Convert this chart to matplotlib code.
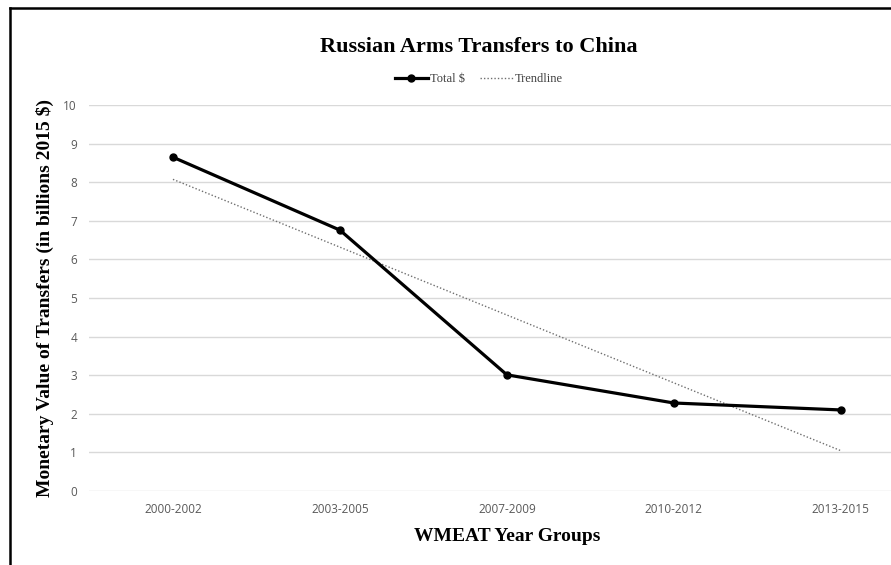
import numpy as np
import matplotlib.pyplot as plt
from matplotlib.lines import Line2D

groups = ["2000-2002", "2003-2005", "2007-2009", "2010-2012", "2013-2015"]
total = [8.65, 6.76, 3.01, 2.28, 2.10]

serif = "Liberation Serif"
sans = "Open Sans"
tick_gray = "#595959"

fig = plt.figure(figsize=(8.91, 5.65), dpi=100)
ax = fig.add_axes([0.1004, 0.131, 0.937, 0.683])

x = np.arange(len(groups))
# linear trendline fitted to the series
coef = np.polyfit(x, total, 1)
trend = np.polyval(coef, x)

ax.plot(x, total, color="black", lw=2.3, marker="o", markersize=5, label="Total $", zorder=3)
ax.plot(x, trend, color="#6f6f6f", lw=1.0, linestyle=(0, (1, 1.5)), label="Trendline", zorder=2)

ax.set_xlim(-0.5, len(groups) - 0.5)
ax.set_ylim(0, 10)
ax.set_yticks(range(0, 11))
ax.set_xticks(x)
ax.set_xticklabels(groups)
ax.grid(axis="y", color="#d9d9d9", lw=1)
ax.set_axisbelow(True)
for s in ax.spines.values():
    s.set_visible(False)
ax.tick_params(length=0, labelsize=8.5, labelcolor=tick_gray, pad=9)
for lab in ax.get_xticklabels() + ax.get_yticklabels():
    lab.set_fontfamily(sans)

ax.set_ylabel("Monetary Value of Transfers (in billions 2015 $)", fontfamily=serif,
              fontweight="bold", fontsize=14)
ax.yaxis.set_label_coords(-0.043, 0.5)
ax.set_xlabel("WMEAT Year Groups", fontfamily=serif, fontweight="bold", fontsize=14)
ax.xaxis.set_label_coords(0.5, -0.095)

fig.text(0.5376, 0.917, "Russian Arms Transfers to China", ha="center", va="center",
         fontfamily=serif, fontweight="bold", fontsize=16)

fig.legend(loc="center", bbox_to_anchor=(0.5376, 0.86), ncol=2, frameon=False,
           prop={"family": serif, "size": 9}, labelcolor="#404040",
           handlelength=2.6, handletextpad=0.2, columnspacing=1.2)

# chart frame (top and left edges visible)
fig.add_artist(Line2D([0.0112, 0.0112], [0, 0.985], transform=fig.transFigure, color="black", lw=1.8))
fig.add_artist(Line2D([0.0112, 1], [0.985, 0.985], transform=fig.transFigure, color="black", lw=1.8))

fig.savefig("out.png", dpi=100)
